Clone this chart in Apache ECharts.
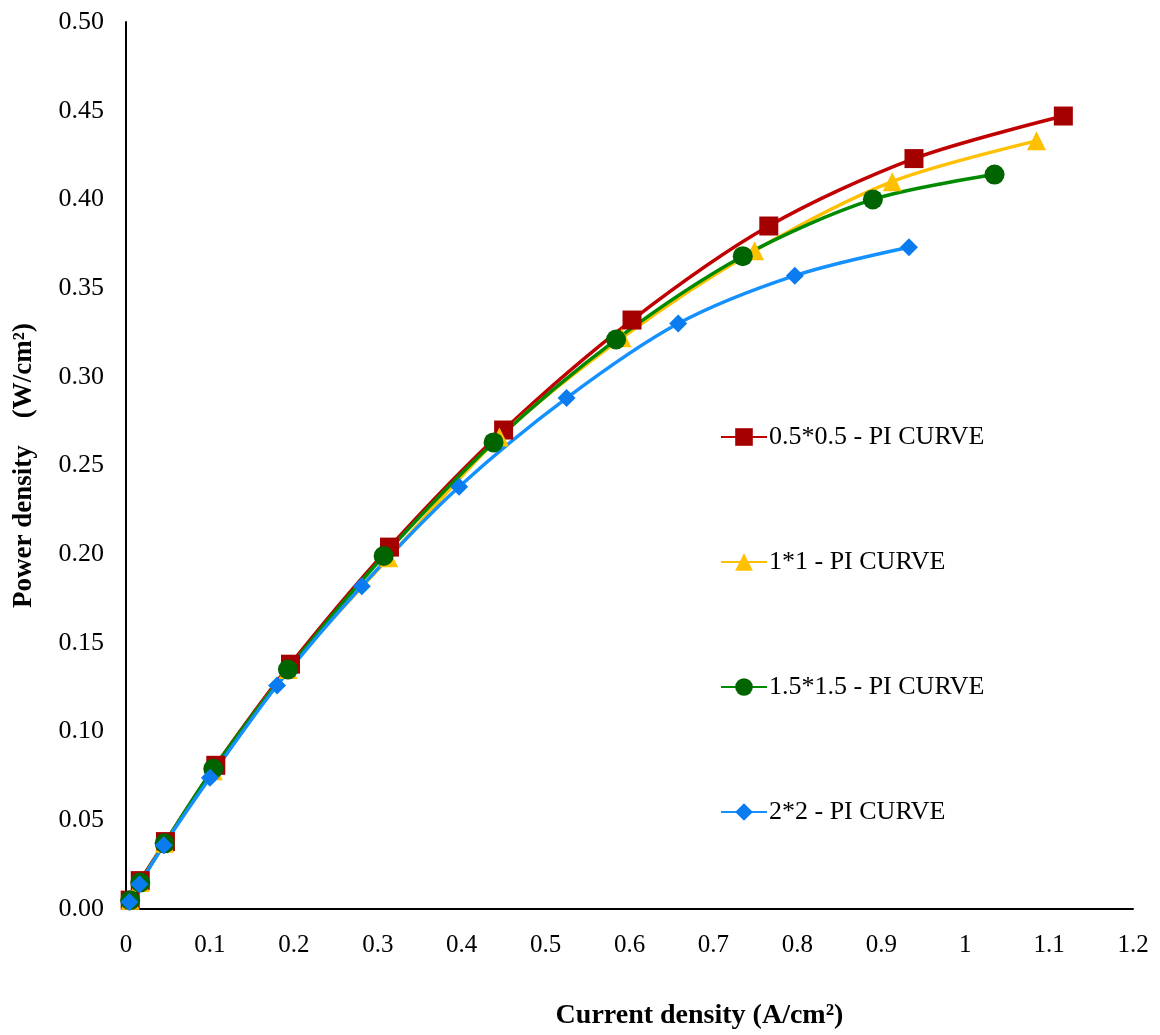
<!DOCTYPE html>
<html>
<head>
<meta charset="utf-8">
<script src="https://cdn.jsdelivr.net/npm/echarts@6/dist/echarts.min.js"></script>
<style>
html,body{margin:0;padding:0;background:#fff;}
#chart{width:1160px;height:1035px;}
</style>
</head>
<body>
<div id="chart"></div>
<script>
// Data
const seriesNames = ["0.5*0.5 - PI CURVE", "1*1 - PI CURVE", "1.5*1.5 - PI CURVE", "2*2 - PI CURVE"];

const x05 = [0.005, 0.017, 0.047, 0.107, 0.196, 0.314, 0.450, 0.603, 0.766, 0.939, 1.117];
const y05 = [0.005, 0.016, 0.038, 0.081, 0.138, 0.204, 0.270, 0.332, 0.385, 0.423, 0.447];

const x1 = [0.005, 0.017, 0.046, 0.104, 0.193, 0.313, 0.445, 0.591, 0.749, 0.913, 1.085];
const y1 = [0.005, 0.015, 0.037, 0.078, 0.135, 0.198, 0.266, 0.322, 0.371, 0.410, 0.433];

const x15 = [0.005, 0.017, 0.046, 0.104, 0.193, 0.307, 0.438, 0.584, 0.735, 0.890, 1.035];
const y15 = [0.005, 0.015, 0.037, 0.079, 0.135, 0.199, 0.263, 0.321, 0.368, 0.400, 0.414];

const x2 = [0.004, 0.016, 0.045, 0.100, 0.180, 0.281, 0.397, 0.525, 0.658, 0.797, 0.933];
const y2 = [0.004, 0.014, 0.036, 0.074, 0.126, 0.182, 0.238, 0.288, 0.330, 0.357, 0.373];

const xTicks = ["0", "0.1", "0.2", "0.3", "0.4", "0.5", "0.6", "0.7", "0.8", "0.9", "1", "1.1", "1.2"];
const yTicks = ["0.00", "0.05", "0.10", "0.15", "0.20", "0.25", "0.30", "0.35", "0.40", "0.45", "0.50"];

function pairs(xs, ys) { return xs.map((v, i) => [v, ys[i]]); }

const FONT = "'Liberation Serif', 'DejaVu Serif', serif";

const chart = echarts.init(document.getElementById('chart'), null, {renderer: 'canvas'});

function mk(name, xs, ys, lineColor, markColor, symbol, size) {
  return {
    name: name,
    type: 'line',
    data: pairs(xs, ys),
    smooth: 0.3,
    symbol: symbol,
    symbolSize: size,
    showSymbol: true,
    lineStyle: {color: lineColor, width: 3.5},
    itemStyle: {color: markColor},
    emphasis: {disabled: true},
    z: 2
  };
}

chart.setOption({
  backgroundColor: '#ffffff',
  animation: false,
  grid: {left: 126, right: 27, top: 22, bottom: 125, containLabel: false},
  legend: {
    orient: 'vertical',
    left: 715,
    top: 419,
    itemWidth: 46,
    itemHeight: 22,
    itemGap: 99,
    data: seriesNames,
    textStyle: {fontFamily: FONT, fontSize: 26, color: '#000', padding: [0, 0, 0, -3]}
  },
  xAxis: {
    type: 'value',
    min: 0,
    max: 1.2,
    interval: 0.1,
    splitLine: {show: false},
    axisTick: {show: false},
    axisLine: {lineStyle: {color: '#000', width: 2}},
    axisLabel: {
      margin: 24,
      fontFamily: FONT, fontSize: 25, color: '#000',
      formatter: function (v) { return xTicks[Math.round(v * 10)]; }
    },
    name: 'Current density (A/cm²)',
    nameLocation: 'middle',
    nameGap: 93,
    nameTextStyle: {fontFamily: FONT, fontSize: 28, fontWeight: 'bold', color: '#000', padding: [0, 0, 0, 140]}
  },
  yAxis: {
    type: 'value',
    min: 0,
    max: 0.5,
    interval: 0.05,
    splitLine: {show: false},
    axisTick: {show: false},
    axisLine: {lineStyle: {color: '#000', width: 2}},
    axisLabel: {
      margin: 22,
      fontFamily: FONT, fontSize: 26, color: '#000',
      formatter: function (v) { return yTicks[Math.round(v * 20)]; }
    },
    name: 'Power density    (W/cm²)',
    nameLocation: 'middle',
    nameGap: 88,
    nameRotate: 90,
    nameTextStyle: {fontFamily: FONT, fontSize: 27, fontWeight: 'bold', color: '#000'}
  },
  series: [
    mk(seriesNames[0], x05, y05, '#C00000', '#A50000', 'rect', 19),
    mk(seriesNames[1], x1, y1, '#FFC000', '#FFC000', 'triangle', 19),
    mk(seriesNames[2], x15, y15, '#008A00', '#006400', 'circle', 20),
    mk(seriesNames[3], x2, y2, '#1591FF', '#0A7CF0', 'diamond', 18)
  ]
});
</script>
</body>
</html>
